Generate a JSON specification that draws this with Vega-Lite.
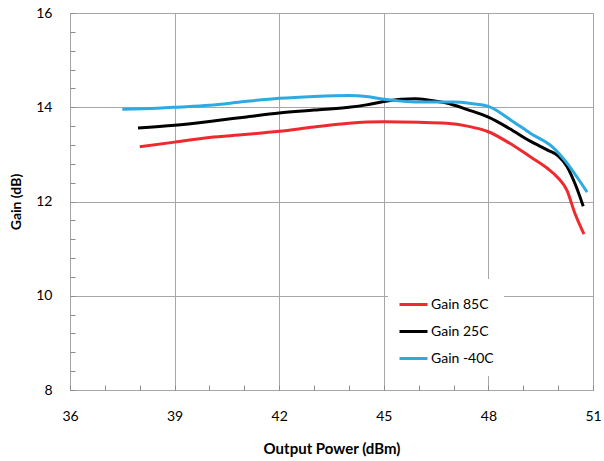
{
  "$schema": "https://vega.github.io/schema/vega-lite/v6.json",
  "width": 523,
  "height": 377,
  "autosize": "none",
  "padding": {"left": 70, "top": 13, "right": 11, "bottom": 71},
  "background": "white",
  "config": {
    "view": {"stroke": "#8c8c8c", "strokeWidth": 1},
    "font": "Lato"
  },
  "data": {
    "values": [
      {"series": "Gain 85C", "p": 38.0, "g": 13.16},
      {"series": "Gain 85C", "p": 39.0, "g": 13.26},
      {"series": "Gain 85C", "p": 40.0, "g": 13.36},
      {"series": "Gain 85C", "p": 41.0, "g": 13.42},
      {"series": "Gain 85C", "p": 42.0, "g": 13.49},
      {"series": "Gain 85C", "p": 43.0, "g": 13.58},
      {"series": "Gain 85C", "p": 44.0, "g": 13.66},
      {"series": "Gain 85C", "p": 45.0, "g": 13.69},
      {"series": "Gain 85C", "p": 46.0, "g": 13.68},
      {"series": "Gain 85C", "p": 46.8, "g": 13.66},
      {"series": "Gain 85C", "p": 47.4, "g": 13.6},
      {"series": "Gain 85C", "p": 48.0, "g": 13.48},
      {"series": "Gain 85C", "p": 48.6, "g": 13.24},
      {"series": "Gain 85C", "p": 49.2, "g": 12.95},
      {"series": "Gain 85C", "p": 49.7, "g": 12.7},
      {"series": "Gain 85C", "p": 50.0, "g": 12.5},
      {"series": "Gain 85C", "p": 50.25, "g": 12.24},
      {"series": "Gain 85C", "p": 50.48, "g": 11.75},
      {"series": "Gain 85C", "p": 50.74, "g": 11.31},
      {"series": "Gain 25C", "p": 37.95, "g": 13.56},
      {"series": "Gain 25C", "p": 39.0, "g": 13.62},
      {"series": "Gain 25C", "p": 40.0, "g": 13.7},
      {"series": "Gain 25C", "p": 41.0, "g": 13.79},
      {"series": "Gain 25C", "p": 42.0, "g": 13.88},
      {"series": "Gain 25C", "p": 43.0, "g": 13.94},
      {"series": "Gain 25C", "p": 44.0, "g": 14.0},
      {"series": "Gain 25C", "p": 44.5, "g": 14.05},
      {"series": "Gain 25C", "p": 45.0, "g": 14.12},
      {"series": "Gain 25C", "p": 45.5, "g": 14.17},
      {"series": "Gain 25C", "p": 45.9, "g": 14.18},
      {"series": "Gain 25C", "p": 46.3, "g": 14.15},
      {"series": "Gain 25C", "p": 46.8, "g": 14.09},
      {"series": "Gain 25C", "p": 47.4, "g": 13.95},
      {"series": "Gain 25C", "p": 48.0, "g": 13.79},
      {"series": "Gain 25C", "p": 48.6, "g": 13.55},
      {"series": "Gain 25C", "p": 49.2, "g": 13.28},
      {"series": "Gain 25C", "p": 49.7, "g": 13.09},
      {"series": "Gain 25C", "p": 50.0, "g": 12.97},
      {"series": "Gain 25C", "p": 50.25, "g": 12.75},
      {"series": "Gain 25C", "p": 50.5, "g": 12.35},
      {"series": "Gain 25C", "p": 50.72, "g": 11.9},
      {"series": "Gain -40C", "p": 37.5, "g": 13.96},
      {"series": "Gain -40C", "p": 38.5, "g": 13.98},
      {"series": "Gain -40C", "p": 39.0, "g": 14.0},
      {"series": "Gain -40C", "p": 40.0, "g": 14.04},
      {"series": "Gain -40C", "p": 41.0, "g": 14.12},
      {"series": "Gain -40C", "p": 42.0, "g": 14.19},
      {"series": "Gain -40C", "p": 43.0, "g": 14.23},
      {"series": "Gain -40C", "p": 44.0, "g": 14.25},
      {"series": "Gain -40C", "p": 44.5, "g": 14.23},
      {"series": "Gain -40C", "p": 45.0, "g": 14.17},
      {"series": "Gain -40C", "p": 45.5, "g": 14.13},
      {"series": "Gain -40C", "p": 46.0, "g": 14.11},
      {"series": "Gain -40C", "p": 47.0, "g": 14.11},
      {"series": "Gain -40C", "p": 47.5, "g": 14.08},
      {"series": "Gain -40C", "p": 48.0, "g": 14.02},
      {"series": "Gain -40C", "p": 48.7, "g": 13.7},
      {"series": "Gain -40C", "p": 49.2, "g": 13.45},
      {"series": "Gain -40C", "p": 49.85, "g": 13.15},
      {"series": "Gain -40C", "p": 50.25, "g": 12.82},
      {"series": "Gain -40C", "p": 50.54, "g": 12.52},
      {"series": "Gain -40C", "p": 50.83, "g": 12.2}
    ]
  },
  "mark": {"type": "line", "strokeWidth": 3, "interpolate": "monotone"},
  "encoding": {
    "x": {
      "field": "p",
      "type": "quantitative",
      "scale": {"domain": [36, 51], "nice": false, "zero": false},
      "axis": {
        "title": "Output Power (dBm)",
        "titleFont": "Lato",
        "titleFontSize": 15,
        "titleFontWeight": "bold",
        "titleColor": "#000000",
        "titlePadding": 18,
        "values": [36,37,38,39,40,41,42,43,44,45,46,47,48,49,50,51],
        "labelExpr": "datum.value % 3 === 0 ? datum.label : ''",
        "labelFont": "Lato",
        "labelFontSize": 14,
        "labelColor": "#000000",
        "labelPadding": 24,
        "labelFlush": false,
        "labelOverlap": false,
        "domain": false,
        "tickSize": -5,
        "tickColor": "#8c8c8c",
        "grid": true,
        "gridColor": "#a6a6a6",
        "gridOpacity": {"condition": {"test": "datum.value % 3 === 0", "value": 1}, "value": 0}
      }
    },
    "y": {
      "field": "g",
      "type": "quantitative",
      "scale": {"domain": [8, 16], "nice": false, "zero": false},
      "axis": {
        "title": "Gain (dB)",
        "titleFont": "Lato",
        "titleFontSize": 14,
        "titleFontWeight": "bold",
        "titleColor": "#000000",
        "titlePadding": 12,
        "values": [8,8.4,8.8,9.2,9.6,10,10.4,10.8,11.2,11.6,12,12.4,12.8,13.2,13.6,14,14.4,14.8,15.2,15.6,16],
        "labelExpr": "abs(datum.value - round(datum.value/2)*2) < 0.01 ? format(datum.value, 'd') : ''",
        "labelFont": "Lato",
        "labelFontSize": 14,
        "labelColor": "#000000",
        "labelPadding": 23,
        "labelFlush": false,
        "labelOverlap": false,
        "domain": false,
        "tickSize": -5,
        "tickColor": "#8c8c8c",
        "grid": true,
        "gridColor": "#a6a6a6",
        "gridOpacity": {"condition": {"test": "abs(datum.value - round(datum.value/2)*2) < 0.01", "value": 1}, "value": 0}
      }
    },
    "color": {
      "field": "series",
      "type": "nominal",
      "scale": {
        "domain": ["Gain 85C", "Gain 25C", "Gain -40C"],
        "range": ["#ee2a2e", "#000000", "#2eaae2"]
      },
      "legend": {
        "title": null,
        "orient": "none",
        "legendX": 318,
        "legendY": 266,
        "fillColor": "white",
        "padding": 10,
        "symbolType": "stroke",
        "symbolSize": 784,
        "symbolStrokeWidth": 3,
        "labelFont": "Lato",
        "labelFontSize": 14,
        "labelColor": "#000000",
        "labelOffset": 2,
        "rowPadding": 4
      }
    }
  }
}
